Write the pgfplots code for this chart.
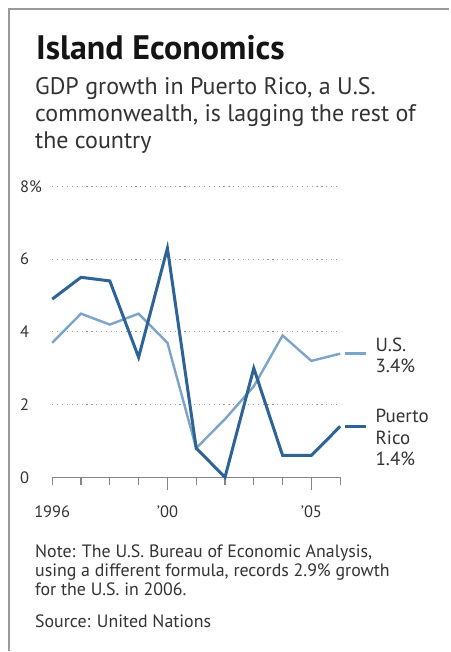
\documentclass[border=0pt]{standalone}
\usepackage{fontspec}
\setmainfont{PT Sans}
\usepackage{pgfplots}
\pgfplotsset{compat=1.18}

\definecolor{prblue}{HTML}{2D6397}
\definecolor{usblue}{HTML}{7CA4CB}
\definecolor{framegray}{HTML}{9A9A9A}
\definecolor{axisgray}{HTML}{858585}
\definecolor{gridgray}{HTML}{9C9C9C}
\definecolor{txt}{HTML}{333333}

\begin{document}
\begin{tikzpicture}[x=1pt,y=1pt]
% canvas and frame
\path[fill=white] (0,0) rectangle (450,652);
\draw[framegray, line width=2pt] (9,0) -- (9,643) -- (450,643);

% headline and subtitle (base anchor = last line)
\node[anchor=base west, inner sep=0, font=\fontsize{34}{38}\selectfont\bfseries, text=black!92]
  at (36,592.7) {Island Economics};
\node[anchor=base west, inner sep=0, align=left, font=\fontsize{24}{26.7}\selectfont, text=txt]
  at (35,503.7) {GDP growth in Puerto Rico, a U.S.\\commonwealth, is lagging the rest of\\the country};

\begin{axis}[
  at={(52.3pt,174pt)}, anchor=south west,
  scale only axis, width=288.4pt, height=291.3pt,
  xmin=1996, xmax=2006, ymin=0, ymax=8,
  clip=false,
  axis x line*=bottom, axis y line*=left,
  x axis line style={axisgray, line width=1.4pt, -},
  y axis line style={draw=none},
  tick align=outside,
  xtick={2000,2005}, xticklabels={’00,’05},
  extra x ticks={1996}, extra x tick labels={1996},
  extra x tick style={major tick length=8pt, xticklabel style={yshift=-4.5pt}},
  minor xtick={1997,1998,1999,2001,2002,2003,2004,2006},
  major tick length=13pt, minor tick length=8pt,
  xtick style={axisgray, line width=1.2pt},
  ytick style={draw=none},
  xticklabel style={anchor=north, inner sep=0pt, yshift=-15.5pt, font=\fontsize{16.5}{18}\selectfont, text=txt},
  ytick={0,2,4,6,8}, yticklabels={0,2,4,6,8\%},
  ymajorgrids,
  major grid style={gridgray, line width=1.2pt, dash pattern=on 1.2pt off 3.7pt},
  yticklabel style={anchor=west, inner sep=0pt, xshift=-19.3pt, font=\fontsize{16.5}{18}\selectfont, text=txt},
  /pgf/number format/assume math mode=true,
]
% real GDP growth, per cent
\addplot[usblue, line width=2.4pt] coordinates {
  (1996,3.7) (1997,4.5) (1998,4.2) (1999,4.5) (2000,3.7) (2001,0.8)
  (2002,1.6) (2003,2.5) (2004,3.9) (2005,3.2) (2006,3.4)};
\addplot[prblue, line width=3pt] coordinates {
  (1996,4.9) (1997,5.5) (1998,5.4) (1999,3.3) (2000,6.3) (2001,0.8)
  (2002,0.0) (2003,3.0) (2004,0.6) (2005,0.6) (2006,1.4)};
% end-of-line keys
\draw[usblue, line width=2.4pt] (axis cs:2006.18,3.4) -- (axis cs:2006.91,3.4);
\draw[prblue, line width=3pt] (axis cs:2006.18,1.4) -- (axis cs:2006.91,1.4);
\end{axis}

\node[anchor=base west, inner sep=0, align=left, font=\fontsize{19}{21}\selectfont, text=txt]
  at (376,279.3) {U.S.\\3.4\%};
\node[anchor=base west, inner sep=0, align=left, font=\fontsize{19}{21.8}\selectfont, text=txt]
  at (376,185.3) {Puerto\\Rico\\1.4\%};

% note and source
\node[anchor=base west, inner sep=0, align=left, font=\fontsize{17.9}{19.2}\selectfont, text=txt]
  at (35,55.3) {Note: The U.S. Bureau of Economic Analysis,\\using a different formula, records 2.9\% growth\\for the U.S. in 2006.};
\node[anchor=base west, inner sep=0, font=\fontsize{17.9}{19.2}\selectfont, text=txt]
  at (35,23.7) {Source: United Nations};
\end{tikzpicture}
\end{document}
